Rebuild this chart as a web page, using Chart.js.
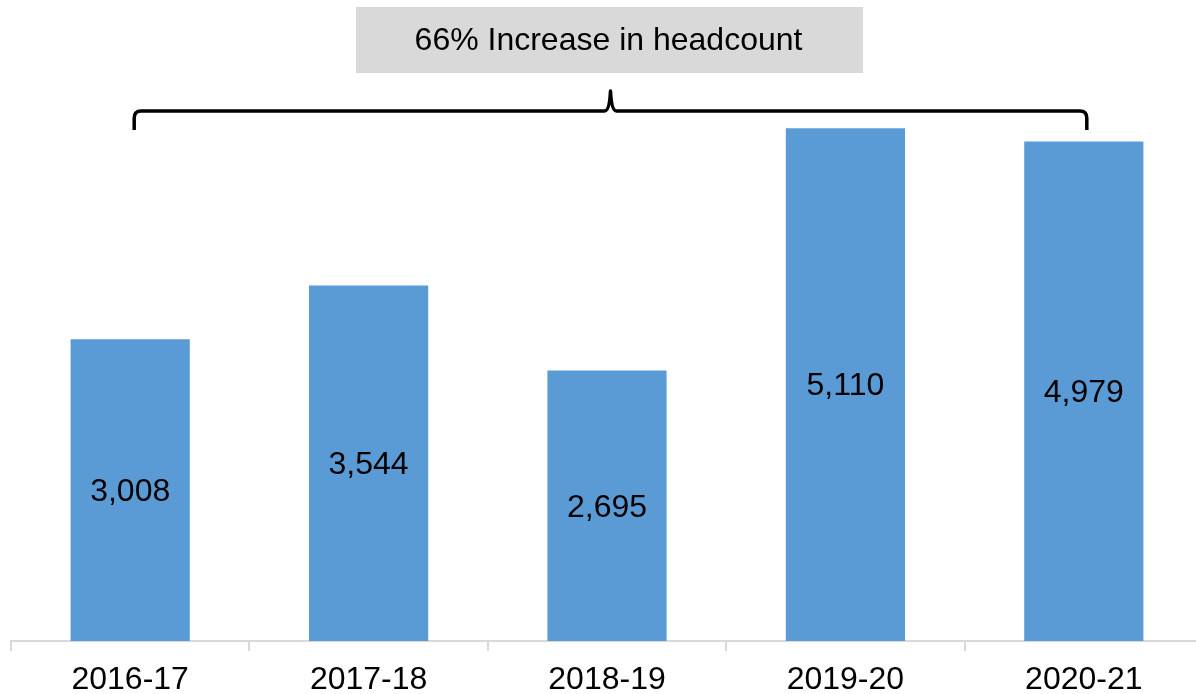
<!doctype html>
<html>
<head>
	<meta charset="UTF-8">
	<title>Headcount</title>
	<script src="https://cdn.jsdelivr.net/npm/chart.js@4/dist/chart.umd.min.js"></script>
	<style>
		html, body { margin: 0; padding: 0; background: #fff; overflow: hidden; }
		#holder { width: 1203px; height: 694px; }
	</style>
</head>
<body>
<div id="holder">
	<canvas id="chart-area"></canvas>
</div>
<script>
	var years = ['2016-17', '2017-18', '2018-19', '2019-20', '2020-21'];
	var headcount = [3008, 3544, 2695, 5110, 4979];
	var calloutText = '66% Increase in headcount';

	var FONT = '"Liberation Sans", Arial, sans-serif';

	// number in the middle of each bar
	var barLabels = {
		id: 'barLabels',
		afterDatasetsDraw: function (chart) {
			var ctx = chart.ctx;
			var meta = chart.getDatasetMeta(0);
			ctx.save();
			ctx.font = '32px ' + FONT;
			ctx.fillStyle = '#000';
			ctx.textAlign = 'center';
			ctx.textBaseline = 'middle';
			meta.data.forEach(function (bar, i) {
				var mid = (bar.y + bar.base) / 2;
				ctx.fillText(headcount[i].toLocaleString('en-US'), bar.x, mid + 2);
			});
			ctx.restore();
		}
	};

	// brace over first..last bar plus the grey caption box
	var brace = {
		id: 'brace',
		afterDraw: function (chart) {
			var ctx = chart.ctx;
			var meta = chart.getDatasetMeta(0);
			var x0 = meta.data[0].x + 4;
			var x1 = meta.data[meta.data.length - 1].x + 3;
			var xm = (x0 + x1) / 2;
			var yLine = 111, yEnd = 130, yTip = 91, r = 7;

			ctx.save();
			ctx.strokeStyle = '#000';
			ctx.lineWidth = 3.5;
			ctx.lineJoin = 'round';
			ctx.beginPath();
			ctx.moveTo(x0, yEnd);
			ctx.lineTo(x0, yLine + r);
			ctx.quadraticCurveTo(x0, yLine, x0 + r, yLine);
			ctx.lineTo(xm - 6, yLine);
			ctx.quadraticCurveTo(xm - 1, yLine, xm, yTip);
			ctx.quadraticCurveTo(xm + 1, yLine, xm + 6, yLine);
			ctx.lineTo(x1 - r, yLine);
			ctx.quadraticCurveTo(x1, yLine, x1, yLine + r);
			ctx.lineTo(x1, yEnd);
			ctx.stroke();

			var bw = 507, bh = 66;
			ctx.fillStyle = '#d9d9d9';
			ctx.fillRect(xm - bw / 2 - 1, 7, bw, bh);
			ctx.fillStyle = '#000';
			ctx.font = '32px ' + FONT;
			ctx.textAlign = 'center';
			ctx.textBaseline = 'middle';
			ctx.fillText(calloutText, xm - 2, 41);
			ctx.restore();
		}
	};

	var config = {
		type: 'bar',
		data: {
			labels: years,
			datasets: [{
				data: headcount,
				backgroundColor: '#5b9bd5',
				barPercentage: 1,
				categoryPercentage: 0.5
			}]
		},
		options: {
			responsive: true,
			maintainAspectRatio: false,
			animation: false,
			events: [],
			layout: { padding: { top: 39, left: 11, right: 0, bottom: 0 } },
			plugins: {
				legend: { display: false },
				tooltip: { enabled: false }
			},
			scales: {
				x: {
					grid: {
						offset: true,
						drawOnChartArea: false,
						drawTicks: true,
						tickLength: 10,
						color: '#d9d9d9',
						lineWidth: 2
					},
					border: { color: '#d9d9d9', width: 2 },
					ticks: {
						color: '#000',
						padding: 10,
						font: { family: FONT, size: 32 }
					},
					afterFit: function (scale) { scale.height = 53; }
				},
				y: {
					display: false,
					min: 0,
					max: 6000
				}
			}
		},
		plugins: [barLabels, brace]
	};

	window.onload = function () {
		var ctx = document.getElementById('chart-area').getContext('2d');
		window.myBar = new Chart(ctx, config);
	};
</script>
</body>
</html>
